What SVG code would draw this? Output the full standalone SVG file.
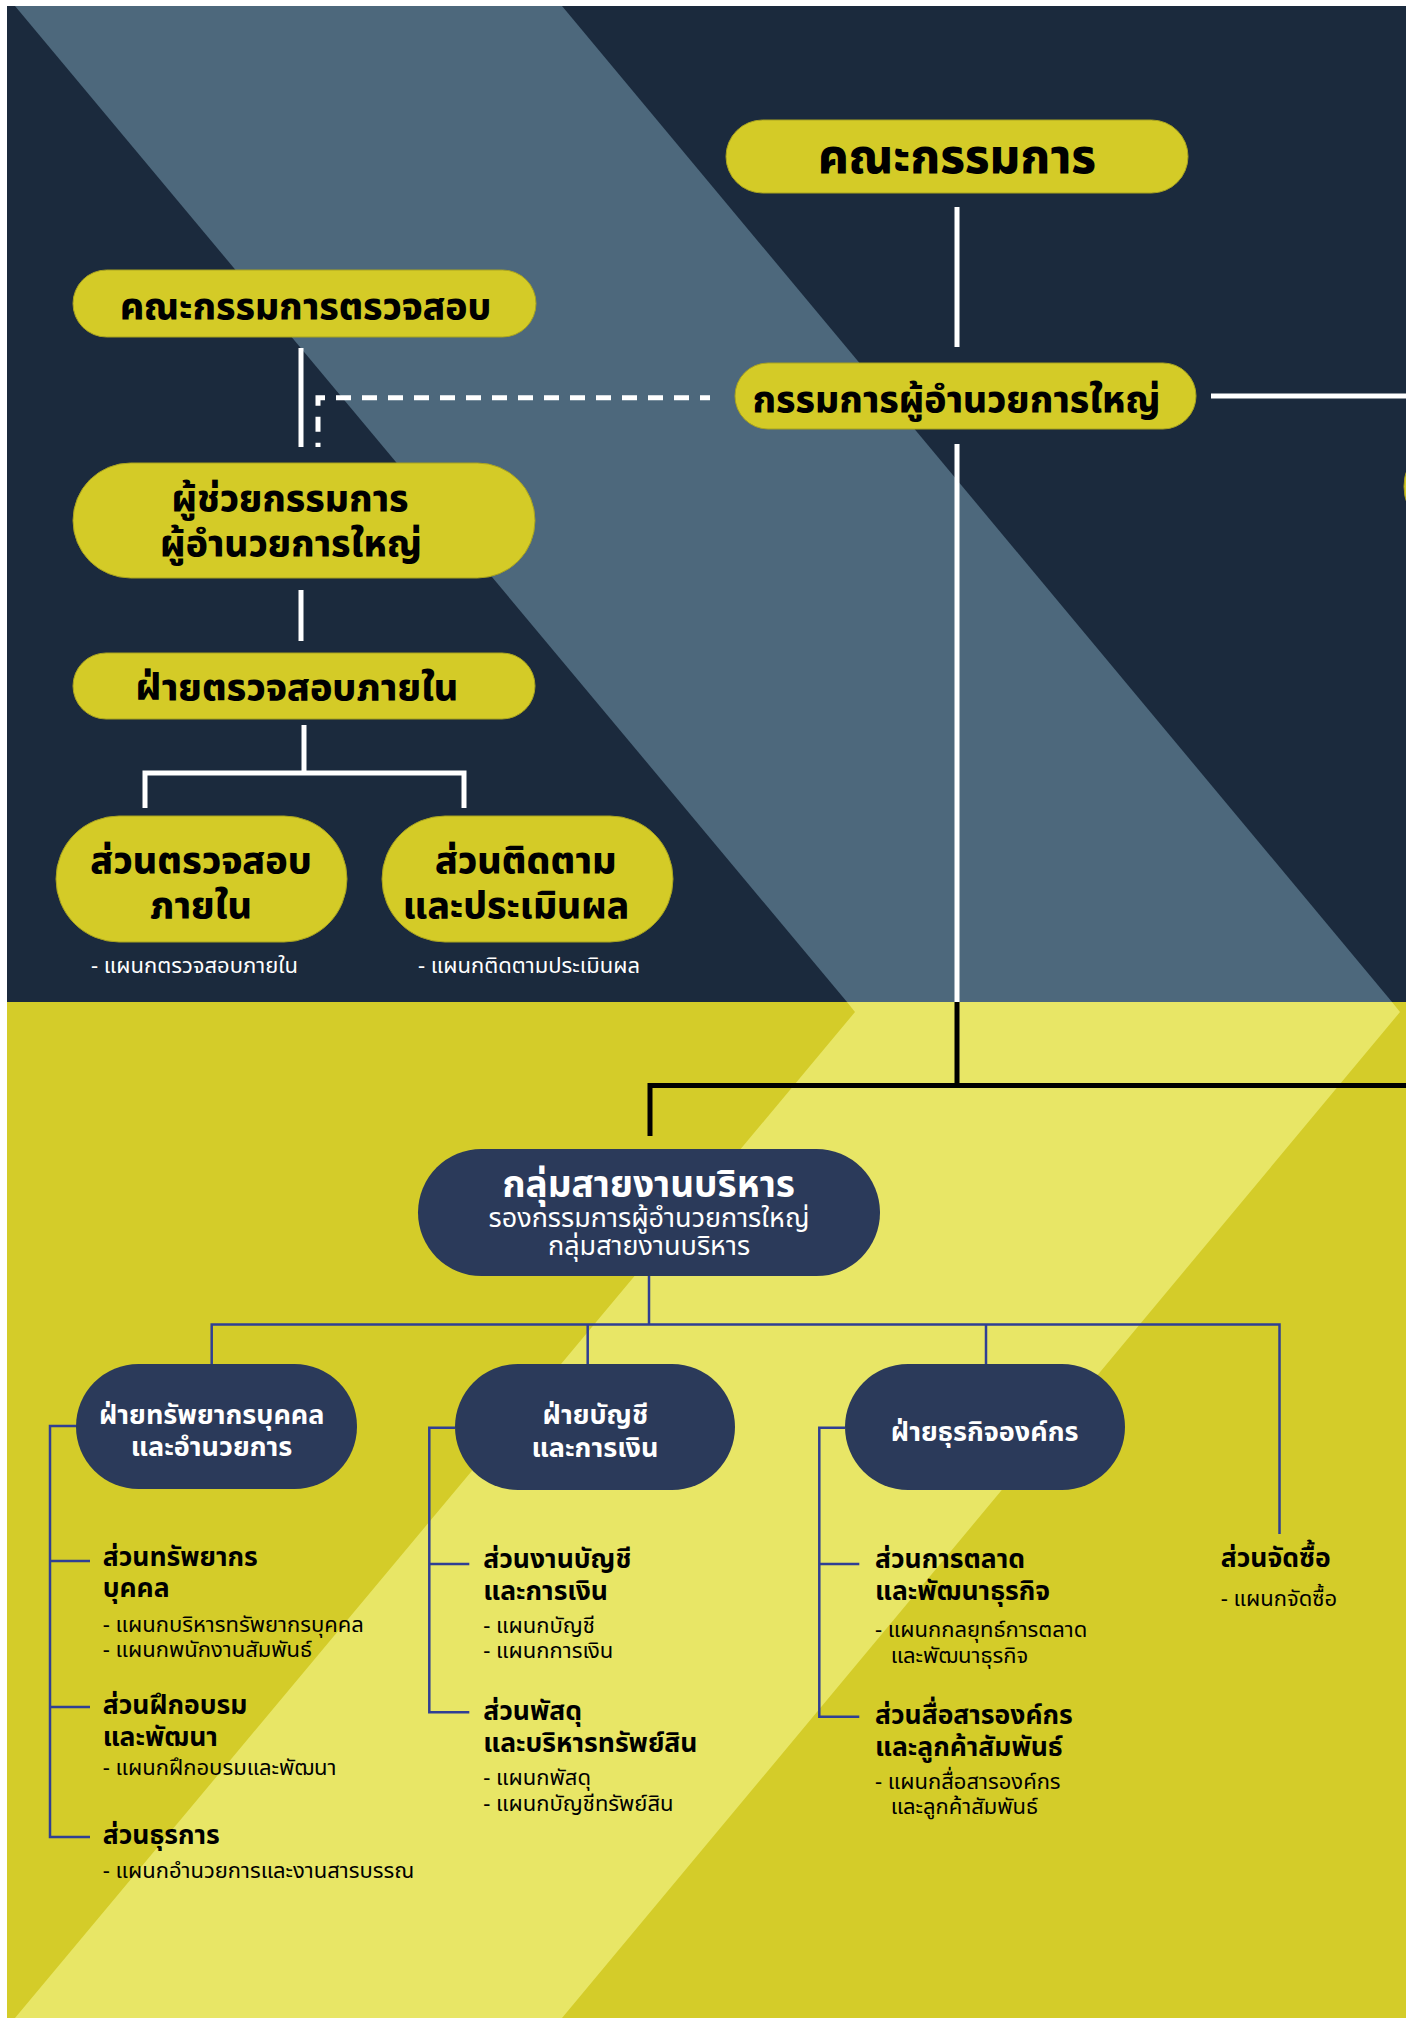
<svg xmlns="http://www.w3.org/2000/svg" width="1406" height="2018" viewBox="0 0 1406 2018">
<style>
text{font-family:"Noto Sans Thai","Noto Sans Thai UI","Noto Sans Thai Looped",Loma,Garuda,"Noto Sans",sans-serif}
.ny{fill:#d4cb27;stroke:#a9a320;stroke-width:1}
.nn{fill:#2b3a5a}
.tb{font-weight:800;fill:#000}
.tw{font-weight:700;fill:#fff}
.c{text-anchor:middle}
.sw{fill:#fff;font-size:22px}
.sb{fill:#000;font-size:22px}
.l3{font-weight:700;fill:#000;font-size:26.5px}
.wl{stroke:#fff;stroke-width:5;fill:none}
.bl{stroke:#000;stroke-width:5;fill:none}
.nl{stroke:#2f3f94;stroke-width:2.5;fill:none}
</style>
<g id="background">
<rect x="0" y="0" width="1406" height="2018" fill="#fff"/>
<rect x="7" y="6" width="1399" height="996" fill="#1b2a3d"/>
<rect x="7" y="1002" width="1399" height="1016" fill="#d4cc29"/>
<polygon points="15,6 562,6 1392,1002 847,1002" fill="#4d687c"/>
<polygon points="847,1002 1392,1002 1400,1012 562,2018 15,2018 855,1012" fill="#e8e666"/>
</g>
<g id="connectors">
<path class="wl" d="M957,207V347"/>
<path class="wl" d="M957,444V1002"/>
<path class="wl" d="M1211,396H1406"/>
<path class="wl" d="M301,348V447"/>
<path class="wl" d="M318,447V397.7H710" stroke-dasharray="15 11" stroke-dashoffset="10.7"/>
<path class="wl" d="M301,590V641"/>
<path class="wl" d="M304,725V773"/>
<path class="wl" d="M145,808V773H464V808"/>
<path class="bl" d="M957,1002V1088"/>
<path class="bl" d="M650,1136V1085.5H1406"/>
<path class="nl" d="M649,1276V1324.5"/>
<path class="nl" d="M211.7,1365V1324.5H1279.5V1534"/>
<path class="nl" d="M587.7,1324.5V1364"/>
<path class="nl" d="M986,1324.5V1364"/>
<path class="nl" d="M76,1426H50V1837H90M50,1561H90M50,1707H90"/>
<path class="nl" d="M455,1427.7H429.3V1712.3H469.3M429.3,1564H469.3"/>
<path class="nl" d="M845,1427.7H819.3V1716.7H859.3M819.3,1564H859.3"/>
</g>
<g id="board">
<rect class="ny" x="726" y="120" width="462" height="73" rx="36.5"/>
<text class="tb c" x="957" y="173" font-size="47">คณะกรรมการ</text>
</g>
<g id="ceo">
<rect class="ny" x="735" y="363" width="461" height="66" rx="33"/>
<text class="tb c" x="956.5" y="411.7" font-size="37">กรรมการผู้อำนวยการใหญ่</text>
</g>
<g id="offscreen-node">
<rect class="ny" x="1404" y="436.5" width="300" height="100" rx="50"/>
</g>
<g id="audit-committee">
<rect class="ny" x="73" y="270" width="463" height="67" rx="33.5"/>
<text class="tb c" x="305.5" y="319" font-size="37">คณะกรรมการตรวจสอบ</text>
</g>
<g id="assistant-ceo">
<rect class="ny" x="73" y="463" width="462" height="115" rx="57.5"/>
<text class="tb c" x="290" y="511" font-size="37">ผู้ช่วยกรรมการ</text>
<text class="tb c" x="291" y="556" font-size="37">ผู้อำนวยการใหญ่</text>
</g>
<g id="internal-audit">
<rect class="ny" x="73" y="653" width="462" height="66" rx="33"/>
<text class="tb c" x="297" y="700" font-size="37.5">ฝ่ายตรวจสอบภายใน</text>
</g>
<g id="audit-section">
<rect class="ny" x="56" y="816" width="291" height="126" rx="63"/>
<text class="tb c" x="201" y="872.7" font-size="37.5">ส่วนตรวจสอบ</text>
<text class="tb c" x="201" y="918.3" font-size="37.5">ภายใน</text>
<text class="sw" x="91" y="973">- แผนกตรวจสอบภายใน</text>
</g>
<g id="monitor-section">
<rect class="ny" x="382" y="816" width="291" height="126" rx="63"/>
<text class="tb c" x="525.7" y="872.7" font-size="37.5">ส่วนติดตาม</text>
<text class="tb c" x="516" y="918.3" font-size="37">และประเมินผล</text>
<text class="sw" x="418" y="973">- แผนกติดตามประเมินผล</text>
</g>
<g id="admin-group">
<rect class="nn" x="418" y="1149" width="462" height="127" rx="63.5"/>
<text class="tw c" x="648.7" y="1197.3" font-size="37">กลุ่มสายงานบริหาร</text>
<text class="c" x="649" y="1227.3" font-size="27" fill="#fff">รองกรรมการผู้อำนวยการใหญ่</text>
<text class="c" x="649" y="1255" font-size="27" fill="#fff">กลุ่มสายงานบริหาร</text>
</g>
<g id="hr-dept">
<rect class="nn" x="76" y="1364" width="281" height="125" rx="62.5"/>
<text class="tw c" x="211.7" y="1424" font-size="27">ฝ่ายทรัพยากรบุคคล</text>
<text class="tw c" x="211.5" y="1455.7" font-size="27">และอำนวยการ</text>
</g>
<g id="acc-dept">
<rect class="nn" x="455" y="1364" width="280" height="126" rx="63"/>
<text class="tw c" x="595.3" y="1424.3" font-size="27">ฝ่ายบัญชี</text>
<text class="tw c" x="595" y="1456.7" font-size="27">และการเงิน</text>
</g>
<g id="biz-dept">
<rect class="nn" x="845" y="1364" width="280" height="126" rx="63"/>
<text class="tw c" x="984.7" y="1441" font-size="27">ฝ่ายธุรกิจองค์กร</text>
</g>
<g id="hr-sections">
<text class="l3" x="102.7" y="1566">ส่วนทรัพยากร</text>
<text class="l3" x="102.7" y="1597.3">บุคคล</text>
<text class="sb" x="102.7" y="1632.3">- แผนกบริหารทรัพยากรบุคคล</text>
<text class="sb" x="102.7" y="1656.7">- แผนกพนักงานสัมพันธ์</text>
<text class="l3" x="102.7" y="1714">ส่วนฝึกอบรม</text>
<text class="l3" x="102.7" y="1746">และพัฒนา</text>
<text class="sb" x="102.7" y="1775.3">- แผนกฝึกอบรมและพัฒนา</text>
<text class="l3" x="102.7" y="1844">ส่วนธุรการ</text>
<text class="sb" x="102.7" y="1878.3">- แผนกอำนวยการและงานสารบรรณ</text>
</g>
<g id="acc-sections">
<text class="l3" x="483.3" y="1568.3">ส่วนงานบัญชี</text>
<text class="l3" x="483.3" y="1600">และการเงิน</text>
<text class="sb" x="483.3" y="1632.7">- แผนกบัญชี</text>
<text class="sb" x="483.3" y="1658.3">- แผนกการเงิน</text>
<text class="l3" x="483.3" y="1720">ส่วนพัสดุ</text>
<text class="l3" x="483.3" y="1751.7">และบริหารทรัพย์สิน</text>
<text class="sb" x="483.3" y="1785">- แผนกพัสดุ</text>
<text class="sb" x="483.3" y="1810.7">- แผนกบัญชีทรัพย์สิน</text>
</g>
<g id="biz-sections">
<text class="l3" x="875" y="1568.3">ส่วนการตลาด</text>
<text class="l3" x="875" y="1600">และพัฒนาธุรกิจ</text>
<text class="sb" x="875" y="1636.7">- แผนกกลยุทธ์การตลาด</text>
<text class="sb" x="890.7" y="1662.7">และพัฒนาธุรกิจ</text>
<text class="l3" x="875" y="1724">ส่วนสื่อสารองค์กร</text>
<text class="l3" x="875" y="1756">และลูกค้าสัมพันธ์</text>
<text class="sb" x="875" y="1789">- แผนกสื่อสารองค์กร</text>
<text class="sb" x="890.7" y="1814">และลูกค้าสัมพันธ์</text>
</g>
<g id="purchasing">
<text class="l3" x="1220.7" y="1566.7">ส่วนจัดซื้อ</text>
<text class="sb" x="1220.7" y="1605.7">- แผนกจัดซื้อ</text>
</g>
</svg>
